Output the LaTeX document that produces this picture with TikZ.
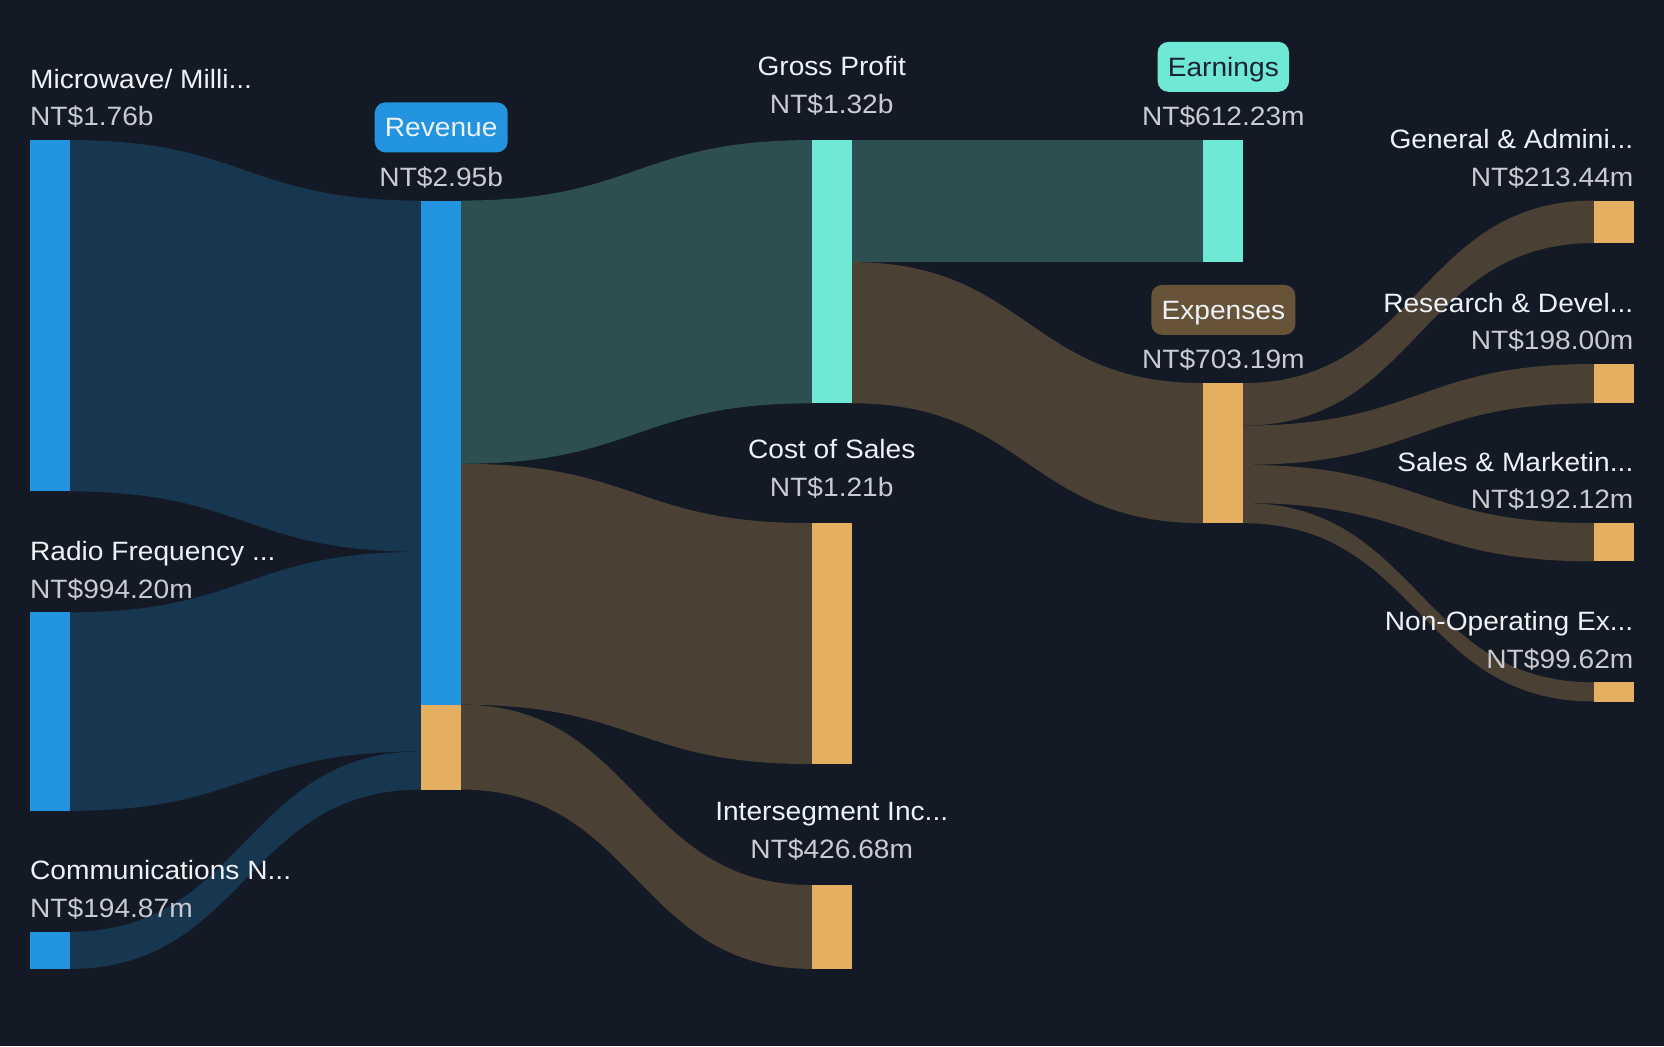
\documentclass[tikz,border=0pt]{standalone}
\usepackage{fontspec}
\setmainfont[FakeStretch=1.06]{Liberation Sans}
\usepackage{tikz}
\definecolor{bg}{HTML}{141A25}
\definecolor{barblue}{HTML}{2394DF}
\definecolor{flowblue}{HTML}{17364F}
\definecolor{barteal}{HTML}{6FE8D5}
\definecolor{flowteal}{HTML}{2D4F52}
\definecolor{barorange}{HTML}{E4AF61}
\definecolor{flowbrown}{HTML}{4A4033}
\definecolor{pillbrown}{HTML}{675438}
\definecolor{titletext}{HTML}{EEF2F7}
\definecolor{valuetext}{HTML}{C9CBD0}
\definecolor{darktext}{HTML}{1B2330}

% band between two bars: x1, top1, bottom1, x2, top2, bottom2, colour
\newcommand{\flow}[7]{%
  \fill[#7] (#1,#2) .. controls ({(#1+#4)/2},#2) and ({(#1+#4)/2},#5) .. (#4,#5)
    -- (#4,#6) .. controls ({(#1+#4)/2},#6) and ({(#1+#4)/2},#3) .. (#1,#3) -- cycle;}

\begin{document}
\begin{tikzpicture}[x=0.5pt, y=-0.5pt,
    bar/.style={rectangle, anchor=north west, inner sep=0pt, outer sep=0pt, minimum width=18.75pt},
    ttl/.style={text=titletext, inner sep=0pt, font=\fontsize{12.5}{15}\selectfont},
    val/.style={text=valuetext, inner sep=0pt, font=\fontsize{12.5}{15}\selectfont},
    pill/.style={rounded corners=5pt, inner xsep=4.8pt, inner ysep=0pt, text height=9pt, text depth=0pt,
      minimum height=23.5pt, font=\fontsize{12.5}{15}\selectfont}]
  \fill[bg] (0,0) rectangle (1568,986);
  \useasboundingbox (0,0) rectangle (1568,986);

  \flow{65.5}{132}{463}{397}{189}{520}{flowblue}
  \flow{65.5}{577}{764}{397}{520}{708}{flowblue}
  \flow{65.5}{878}{913}{397}{708}{744}{flowblue}
  \flow{434.5}{189}{437}{765}{132}{380}{flowteal}
  \flow{434.5}{437}{664}{765}{493}{720}{flowbrown}
  \flow{434.5}{664}{744}{765}{834}{913}{flowbrown}
  \flow{802.5}{132}{247}{1134}{132}{247}{flowteal}
  \flow{802.5}{247}{380}{1134}{361}{493}{flowbrown}
  \flow{1171.5}{361}{401}{1502}{189}{229}{flowbrown}
  \flow{1171.5}{401}{438}{1502}{343}{380}{flowbrown}
  \flow{1171.5}{438}{474}{1502}{493}{529}{flowbrown}
  \flow{1171.5}{474}{493}{1502}{643}{661}{flowbrown}

  \node[bar, fill=barblue, minimum height=331*.5pt] (micro) at (28,132) {};
  \node[bar, fill=barblue, minimum height=187*.5pt] (radio) at (28,577) {};
  \node[bar, fill=barblue, minimum height=35*.5pt] (comms) at (28,878) {};
  \node[bar, fill=barblue, minimum height=475*.5pt] (rev) at (397,189) {};
  \node[bar, fill=barorange, minimum height=80*.5pt] (revseg) at (397,664) {};
  \node[bar, fill=barteal, minimum height=248*.5pt] (gross) at (765,132) {};
  \node[bar, fill=barorange, minimum height=227*.5pt] (cost) at (765,493) {};
  \node[bar, fill=barorange, minimum height=79*.5pt] (seg) at (765,834) {};
  \node[bar, fill=barteal, minimum height=115*.5pt] (earn) at (1134,132) {};
  \node[bar, fill=barorange, minimum height=132*.5pt] (exp) at (1134,361) {};
  \node[bar, fill=barorange, minimum height=40*.5pt] (ga) at (1502,189) {};
  \node[bar, fill=barorange, minimum height=37*.5pt] (rd) at (1502,343) {};
  \node[bar, fill=barorange, minimum height=36*.5pt] (sm) at (1502,493) {};
  \node[bar, fill=barorange, minimum height=18.5*.5pt] (nonop) at (1502,643) {};

  \node[ttl, anchor=base west] (microt) at (28,83) {Microwave/ Milli...};
  \node[val, anchor=base west] (microv) at (28,118.5) {NT\$1.76b};
  \node[ttl, anchor=base west] (radiot) at (28,528) {Radio Frequency ...};
  \node[val, anchor=base west] (radiov) at (28,563.5) {NT\$994.20m};
  \node[ttl, anchor=base west] (commst) at (28,829) {Communications N...};
  \node[val, anchor=base west] (commsv) at (28,864.5) {NT\$194.87m};

  \node[pill, fill=barblue, text=titletext] (revt) at (415.75,120) {Revenue};
  \node[val, anchor=base] (revv) at (415.75,175.5) {NT\$2.95b};

  \node[ttl, anchor=base] (grosst) at (783.75,71) {Gross Profit};
  \node[val, anchor=base] (grossv) at (783.75,107) {NT\$1.32b};
  \node[ttl, anchor=base] (costt) at (783.75,432) {Cost of Sales};
  \node[val, anchor=base] (costv) at (783.75,468) {NT\$1.21b};
  \node[ttl, anchor=base] (segt) at (783.75,773) {Intersegment Inc...};
  \node[val, anchor=base] (segv) at (783.75,809) {NT\$426.68m};

  \node[pill, fill=barteal, text=darktext] (earnt) at (1152.75,63) {Earnings};
  \node[val, anchor=base] (earnv) at (1152.75,118.5) {NT\$612.23m};
  \node[pill, fill=pillbrown, text=titletext] (expt) at (1152.75,292) {Expenses};
  \node[val, anchor=base] (expv) at (1152.75,347.5) {NT\$703.19m};

  \node[ttl, anchor=base east] (gat) at (1539.5,140) {General \& Admini...};
  \node[val, anchor=base east] (gav) at (1539.5,175.5) {NT\$213.44m};
  \node[ttl, anchor=base east] (rdt) at (1539.5,294) {Research \& Devel...};
  \node[val, anchor=base east] (rdv) at (1539.5,329.5) {NT\$198.00m};
  \node[ttl, anchor=base east] (smt) at (1539.5,444) {Sales \& Marketin...};
  \node[val, anchor=base east] (smv) at (1539.5,479.5) {NT\$192.12m};
  \node[ttl, anchor=base east] (nonopt) at (1539.5,594) {Non-Operating Ex...};
  \node[val, anchor=base east] (nonopv) at (1539.5,629.5) {NT\$99.62m};
\end{tikzpicture}
\end{document}
